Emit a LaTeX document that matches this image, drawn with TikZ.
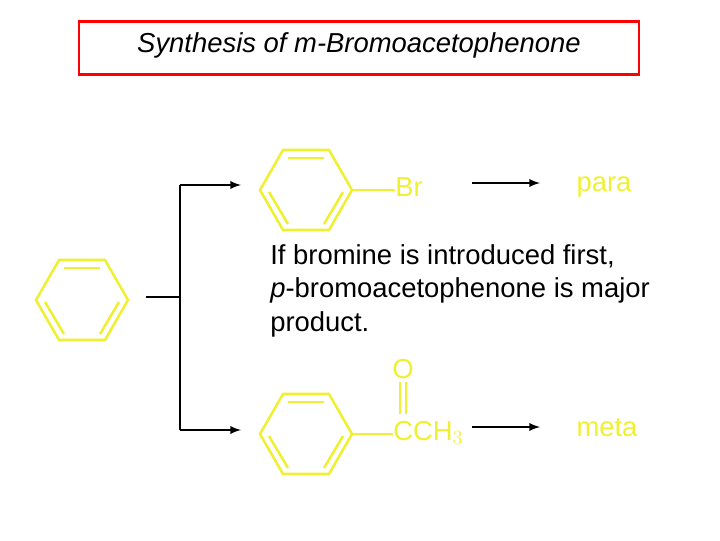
\documentclass[tikz,border=0pt]{standalone}
\usepackage{fontspec}
\setmainfont{Liberation Sans}
\begin{document}
\begin{tikzpicture}[x=0.025cm,y=-0.025cm]
\definecolor{yel}{RGB}{240,240,50}
\tikzset{ring/.style={yel,line width=1.8pt},
 conn/.style={black,line width=1.6pt},
 arr/.style={conn,-latex},
 ytext/.style={text=yel,font=\fontsize{19.5}{22}\selectfont,inner sep=0pt},
 btext/.style={font=\fontsize{19.5}{24}\selectfont,align=left,inner sep=0pt}}
\useasboundingbox (0,0) rectangle (720,540);
\node[draw=red,line width=1.5pt,minimum width=560*0.025cm,minimum height=53*0.025cm] (title) at (359,48) {};
\node[font=\itshape\fontsize{19.5}{22}\selectfont] (tt) at (359,45) {Synthesis of m-Bromoacetophenone};
\newcommand{\benz}[3]{%
 \begin{scope}[shift={(#1,#2)}]
 \coordinate (#3) at (46,0);
 \draw[ring] (-46,0)--(-23,-40)--(23,-40)--(46,0)--(23,40)--(-23,40)--cycle;
 \draw[ring] (-18,-32)--(18,-32);
 \draw[ring] (-37,2)--(-18,34);
 \draw[ring] (37,2)--(18,34);
 \end{scope}}
\benz{82}{300}{r0}
\benz{306}{190}{r1}
\benz{306}{434}{r2}
\node[ytext,anchor=west] (br) at (395,187) {Br};
\draw[ring] (r1)--(r1 -| br.west);
\node[ytext,anchor=west] (cch) at (393,433) {CCH$_3$};
\draw[ring] (r2)--(r2 -| cch.west);
\node[ytext] (o) at (403,369) {O};
\draw[ring] (400,382)--(400,414);
\draw[ring] (406,382)--(406,414);
\node[ytext] (para) at (604,187) {para};
\node[ytext] (meta) at (607,428) {meta};
\coordinate (j) at (180,297);
\coordinate (jt) at (180,185);
\coordinate (jb) at (180,430);
\coordinate (a1) at (241,185);
\coordinate (a2) at (241,430);
\draw[conn] (146,297)--(j);
\draw[conn] (jt)--(jb);
\draw[arr] (jt)--(a1);
\draw[arr] (jb)--(a2);
\draw[arr] (472,183)--(540,183);
\draw[arr] (472,427)--(540,427);
\node[btext,anchor=north west] (txt) at (270,244) {If bromine is introduced first,\\\textit{p}-bromoacetophenone is major\\product.};
\end{tikzpicture}
\end{document}
